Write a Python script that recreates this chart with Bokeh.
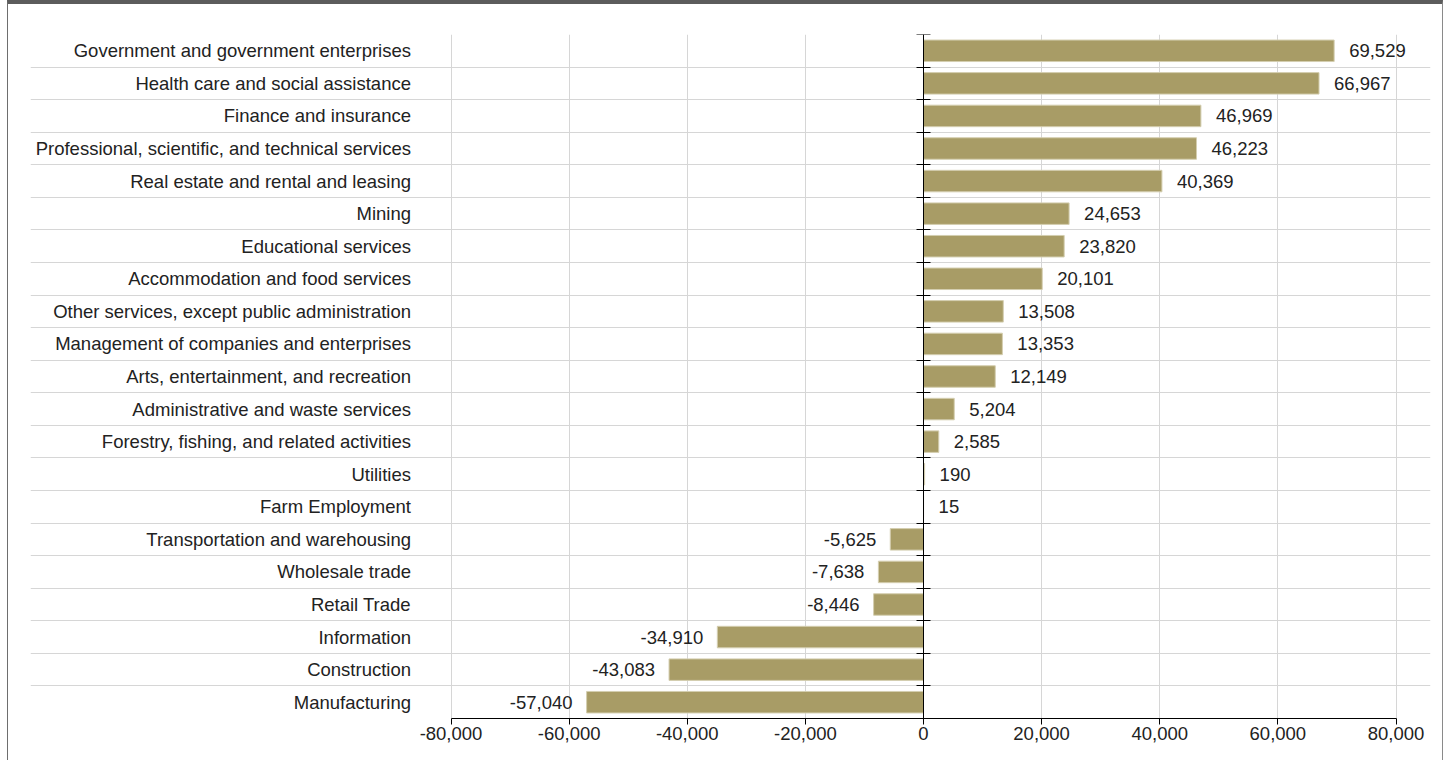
from bokeh.plotting import figure
from bokeh.models import Range1d, FixedTicker, LinearAxis, Grid, ColumnDataSource, NumeralTickFormatter
from bokeh.embed import file_html
from bokeh.resources import INLINE
from bokeh.core.properties import value

industries = [
    "Government and government enterprises",
    "Health care and social assistance",
    "Finance and insurance",
    "Professional, scientific, and technical services",
    "Real estate and rental and leasing",
    "Mining",
    "Educational services",
    "Accommodation and food services",
    "Other services, except public administration",
    "Management of companies and enterprises",
    "Arts, entertainment, and recreation",
    "Administrative and waste services",
    "Forestry, fishing, and related activities",
    "Utilities",
    "Farm Employment",
    "Transportation and warehousing",
    "Wholesale trade",
    "Retail Trade",
    "Information",
    "Construction",
    "Manufacturing",
]
change = [69529, 66967, 46969, 46223, 40369, 24653, 23820, 20101, 13508, 13353,
          12149, 5204, 2585, 190, 15, -5625, -7638, -8446, -34910, -43083, -57040]
x_ticks = [-80000, -60000, -40000, -20000, 0, 20000, 40000, 60000, 80000]

FONT = "Liberation Sans"
FS = "18.5px"
TXT = "#222222"
BAR = "#A89C66"
GRID = "#d6d6d6"

n = len(industries)
idx = list(range(n))
bounds = [i - 0.5 for i in range(n + 1)]

px_per_unit = 472.5 / 80000.0
x_start = -893 / px_per_unit
x_end = 507 / px_per_unit
p = figure(width=1436, height=760, output_backend="svg", toolbar_location=None,
           x_range=Range1d(x_start, x_end),
           y_range=Range1d(n - 0.5, -0.5),
           y_axis_location=None,
           min_border_left=22, min_border_right=14, min_border_top=30, min_border_bottom=46)
p.outline_line_color = None
p.background_fill_color = "white"
p.border_fill_color = "white"
p.styles = {"border-top": "4px solid #5c5c5c", "border-left": "1px solid #6e6e6e",
            "border-right": "1px solid #8a8a8a", "margin-left": "7px"}

# x axis
xt = FixedTicker(ticks=x_ticks)
p.xaxis.ticker = xt
p.xaxis.bounds = (x_ticks[0], x_ticks[-1])
p.xaxis.formatter = NumeralTickFormatter(format="0,0")
p.xaxis.axis_line_color = "black"
p.xaxis.major_tick_line_color = "black"
p.xaxis.major_tick_in = 0
p.xaxis.major_tick_out = 6
p.xaxis.minor_tick_line_color = None
p.xaxis.major_label_text_font = FONT
p.xaxis.major_label_text_font_size = FS
p.xaxis.major_label_text_color = TXT
p.xaxis.major_label_standoff = 2
p.xgrid.ticker = xt
p.xgrid.grid_line_color = GRID
for g in p.ygrid:
    g.visible = False

# horizontal grid lines at category boundaries
yg = Grid(dimension=1, ticker=FixedTicker(ticks=bounds), grid_line_color=GRID,
          bounds=(x_start, x_ticks[-1]))
p.add_layout(yg)

# bars
src = ColumnDataSource(dict(y=idx, v=change))
p.hbar(y="y", left=0, right="v", height=0.66, source=src,
       fill_color=BAR, line_color="#d4ceb0", line_width=1)

# category labels axis
lab_axis = LinearAxis(fixed_location=x_ticks[0], ticker=FixedTicker(ticks=idx),
                      major_label_overrides={i: name for i, name in enumerate(industries)})
lab_axis.axis_line_color = None
lab_axis.major_tick_line_color = None
lab_axis.major_tick_in = 0
lab_axis.major_tick_out = 0
lab_axis.minor_tick_line_color = None
lab_axis.major_label_standoff = 40
lab_axis.major_label_text_font = FONT
lab_axis.major_label_text_font_size = FS
lab_axis.major_label_text_color = TXT
p.add_layout(lab_axis, "left")

# zero axis with ticks at boundaries
zero_axis = LinearAxis(fixed_location=0, ticker=FixedTicker(ticks=bounds),
                       major_label_overrides={b: "" for b in bounds})
zero_axis.axis_line_color = "black"
zero_axis.major_tick_line_color = "black"
zero_axis.major_tick_in = 7
zero_axis.major_tick_out = 7
zero_axis.minor_tick_line_color = None
zero_axis.major_label_text_font_size = "0px"
p.add_layout(zero_axis, "left")

# value labels
pos = [(i, v) for i, v in zip(idx, change) if v >= 0]
neg = [(i, v) for i, v in zip(idx, change) if v < 0]
src_pos = ColumnDataSource(dict(y=[a for a, _ in pos], x=[b for _, b in pos],
                                t=[f"{b:,}" for _, b in pos]))
src_neg = ColumnDataSource(dict(y=[a for a, _ in neg], x=[b for _, b in neg],
                                t=[f"{b:,}" for _, b in neg]))
p.text(x="x", y="y", text="t", source=src_pos, x_offset=15, text_align="left",
       text_baseline="middle", text_font=value(FONT), text_font_size=FS, text_color=TXT)
p.text(x="x", y="y", text="t", source=src_neg, x_offset=-14, text_align="right",
       text_baseline="middle", text_font=value(FONT), text_font_size=FS, text_color=TXT)

open("out.html", "w").write(file_html(p, INLINE))
